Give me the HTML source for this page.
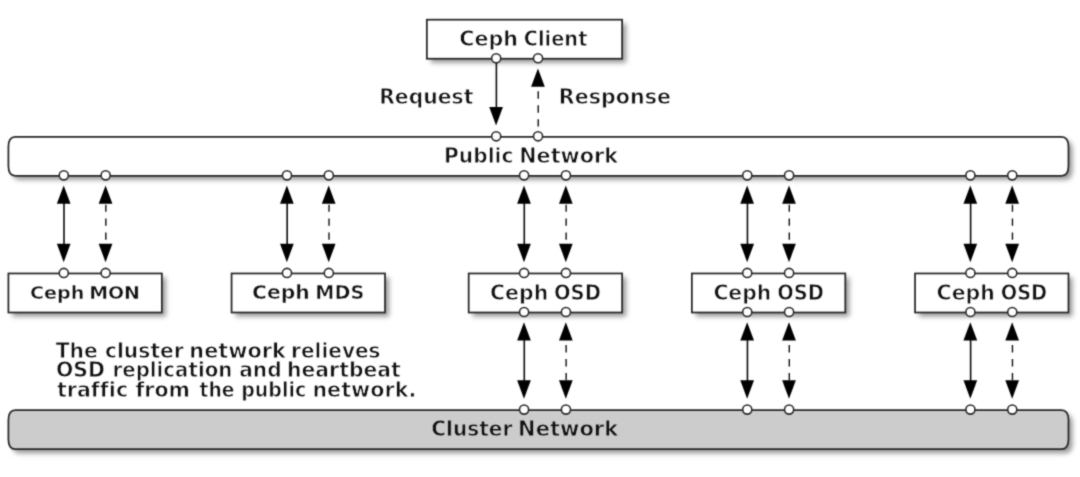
<!DOCTYPE html>
<html><head><meta charset="utf-8"><title>Ceph Network</title>
<style>
html,body{margin:0;padding:0;background:#fff;}
body{width:1080px;height:477px;overflow:hidden;}
svg{display:block;}
text{font-family:"DejaVu Sans","Liberation Sans",sans-serif;font-weight:bold;fill:#111;stroke:#fff;stroke-width:0.8px;font-variant-ligatures:none;font-kerning:none;}
text.g{stroke:#ccc;}
text.m1{stroke-width:0.45px;}
text.m2{stroke-width:0.55px;}
</style></head><body>
<svg width="1080" height="477" viewBox="0 0 1080 477">
<defs>
<filter id="sh" x="-5%" y="-30%" width="110%" height="170%">
<feGaussianBlur in="SourceAlpha" stdDeviation="2.8"/>
<feOffset dx="4.2" dy="4.2" result="b"/>
<feFlood flood-color="#989898"/>
<feComposite in2="b" operator="in"/>
</filter>
<filter id="soft" x="0" y="0" width="100%" height="100%" filterUnits="userSpaceOnUse" color-interpolation-filters="sRGB">
<feConvolveMatrix order="3" kernelMatrix="0.0277 0.1110 0.0277 0.1110 0.4452 0.1110 0.0277 0.1110 0.0277" divisor="1" edgeMode="duplicate" preserveAlpha="true"/>
</filter>
</defs>
<rect width="1080" height="477" fill="#fff"/>
<g filter="url(#soft)">
<rect width="1080" height="477" fill="#fff"/>

<g filter="url(#sh)">
<rect x="426.85" y="19.7" width="195.27" height="39.04" fill="#000"/>
<path d="M15.38 136.82L1061.48 136.82Q1068.46 136.82 1068.46 146.58L1068.46 166.1Q1068.46 175.86 1061.48 175.86L15.38 175.86Q8.41 175.86 8.41 166.1L8.41 146.58Q8.41 136.82 15.38 136.82Z" fill="#000"/>
<rect x="8.41" y="273.46" width="153.43" height="39.04" fill="#000"/>
<rect x="231.58" y="273.46" width="153.43" height="39.04" fill="#000"/>
<rect x="468.69" y="273.46" width="153.43" height="39.04" fill="#000"/>
<rect x="691.86" y="273.46" width="153.43" height="39.04" fill="#000"/>
<rect x="915.03" y="273.46" width="153.43" height="39.04" fill="#000"/>
<path d="M15.38 410.1L1061.48 410.1Q1068.46 410.1 1068.46 419.86L1068.46 439.38Q1068.46 449.14 1061.48 449.14L15.38 449.14Q8.41 449.14 8.41 439.38L8.41 419.86Q8.41 410.1 15.38 410.1Z" fill="#000"/>
</g>
<rect x="426.85" y="19.7" width="195.27" height="39.04" fill="#fff" stroke="#2a2a2a" stroke-width="1.75"/>
<path d="M15.38 136.82L1061.48 136.82Q1068.46 136.82 1068.46 146.58L1068.46 166.1Q1068.46 175.86 1061.48 175.86L15.38 175.86Q8.41 175.86 8.41 166.1L8.41 146.58Q8.41 136.82 15.38 136.82Z" fill="#fff" stroke="#2a2a2a" stroke-width="1.75"/>
<rect x="8.41" y="273.46" width="153.43" height="39.04" fill="#fff" stroke="#2a2a2a" stroke-width="1.75"/>
<rect x="231.58" y="273.46" width="153.43" height="39.04" fill="#fff" stroke="#2a2a2a" stroke-width="1.75"/>
<rect x="468.69" y="273.46" width="153.43" height="39.04" fill="#fff" stroke="#2a2a2a" stroke-width="1.75"/>
<rect x="691.86" y="273.46" width="153.43" height="39.04" fill="#fff" stroke="#2a2a2a" stroke-width="1.75"/>
<rect x="915.03" y="273.46" width="153.43" height="39.04" fill="#fff" stroke="#2a2a2a" stroke-width="1.75"/>
<path d="M15.38 410.1L1061.48 410.1Q1068.46 410.1 1068.46 419.86L1068.46 439.38Q1068.46 449.14 1061.48 449.14L15.38 449.14Q8.41 449.14 8.41 439.38L8.41 419.86Q8.41 410.1 15.38 410.1Z" fill="#ccc" stroke="#2a2a2a" stroke-width="1.75"/>
<line x1="496.39" y1="58.24" x2="496.39" y2="116.8" stroke="#0c0c0c" stroke-width="1.6"/>
<polygon points="496.09,125.56 489.24,107.04 502.94,107.04" fill="#000"/>
<line x1="538.23" y1="126.56" x2="538.23" y2="87.52" stroke="#111" stroke-width="1.4" stroke-dasharray="7.4 6.6" stroke-dashoffset="0.2"/>
<polygon points="537.93,68.4 531.08,86.72 544.78,86.72" fill="#000"/>
<line x1="64" y1="194.88" x2="64" y2="253.44" stroke="#0c0c0c" stroke-width="1.6"/>
<polygon points="63.7,185.52 56.85,203.84 70.55,203.84" fill="#000"/>
<polygon points="63.7,262.2 56.85,243.68 70.55,243.68" fill="#000"/>
<line x1="105.84" y1="204.64" x2="105.84" y2="243.68" stroke="#111" stroke-width="1.4" stroke-dasharray="7.4 6.6" stroke-dashoffset="0.2"/>
<polygon points="105.54,185.52 98.69,203.84 112.39,203.84" fill="#000"/>
<polygon points="105.54,262.2 98.69,243.68 112.39,243.68" fill="#000"/>
<line x1="287.17" y1="194.88" x2="287.17" y2="253.44" stroke="#0c0c0c" stroke-width="1.6"/>
<polygon points="286.87,185.52 280.02,203.84 293.72,203.84" fill="#000"/>
<polygon points="286.87,262.2 280.02,243.68 293.72,243.68" fill="#000"/>
<line x1="329.01" y1="204.64" x2="329.01" y2="243.68" stroke="#111" stroke-width="1.4" stroke-dasharray="7.4 6.6" stroke-dashoffset="0.2"/>
<polygon points="328.71,185.52 321.86,203.84 335.56,203.84" fill="#000"/>
<polygon points="328.71,262.2 321.86,243.68 335.56,243.68" fill="#000"/>
<line x1="524.28" y1="194.88" x2="524.28" y2="253.44" stroke="#0c0c0c" stroke-width="1.6"/>
<polygon points="523.98,185.52 517.13,203.84 530.83,203.84" fill="#000"/>
<polygon points="523.98,262.2 517.13,243.68 530.83,243.68" fill="#000"/>
<line x1="566.13" y1="204.64" x2="566.13" y2="243.68" stroke="#111" stroke-width="1.4" stroke-dasharray="7.4 6.6" stroke-dashoffset="0.2"/>
<polygon points="565.83,185.52 558.98,203.84 572.68,203.84" fill="#000"/>
<polygon points="565.83,262.2 558.98,243.68 572.68,243.68" fill="#000"/>
<line x1="747.45" y1="194.88" x2="747.45" y2="253.44" stroke="#0c0c0c" stroke-width="1.6"/>
<polygon points="747.15,185.52 740.3,203.84 754,203.84" fill="#000"/>
<polygon points="747.15,262.2 740.3,243.68 754,243.68" fill="#000"/>
<line x1="789.3" y1="204.64" x2="789.3" y2="243.68" stroke="#111" stroke-width="1.4" stroke-dasharray="7.4 6.6" stroke-dashoffset="0.2"/>
<polygon points="789,185.52 782.15,203.84 795.85,203.84" fill="#000"/>
<polygon points="789,262.2 782.15,243.68 795.85,243.68" fill="#000"/>
<line x1="970.62" y1="194.88" x2="970.62" y2="253.44" stroke="#0c0c0c" stroke-width="1.6"/>
<polygon points="970.32,185.52 963.47,203.84 977.17,203.84" fill="#000"/>
<polygon points="970.32,262.2 963.47,243.68 977.17,243.68" fill="#000"/>
<line x1="1012.46" y1="204.64" x2="1012.46" y2="243.68" stroke="#111" stroke-width="1.4" stroke-dasharray="7.4 6.6" stroke-dashoffset="0.2"/>
<polygon points="1012.16,185.52 1005.31,203.84 1019.01,203.84" fill="#000"/>
<polygon points="1012.16,262.2 1005.31,243.68 1019.01,243.68" fill="#000"/>
<line x1="524.28" y1="331.52" x2="524.28" y2="390.08" stroke="#0c0c0c" stroke-width="1.6"/>
<polygon points="523.98,322.16 517.13,340.48 530.83,340.48" fill="#000"/>
<polygon points="523.98,398.84 517.13,380.32 530.83,380.32" fill="#000"/>
<line x1="566.13" y1="380.32" x2="566.13" y2="341.28" stroke="#111" stroke-width="1.4" stroke-dasharray="7.4 6.6" stroke-dashoffset="0.2"/>
<polygon points="565.83,322.16 558.98,340.48 572.68,340.48" fill="#000"/>
<polygon points="565.83,398.84 558.98,380.32 572.68,380.32" fill="#000"/>
<line x1="747.45" y1="331.52" x2="747.45" y2="390.08" stroke="#0c0c0c" stroke-width="1.6"/>
<polygon points="747.15,322.16 740.3,340.48 754,340.48" fill="#000"/>
<polygon points="747.15,398.84 740.3,380.32 754,380.32" fill="#000"/>
<line x1="789.3" y1="380.32" x2="789.3" y2="341.28" stroke="#111" stroke-width="1.4" stroke-dasharray="7.4 6.6" stroke-dashoffset="0.2"/>
<polygon points="789,322.16 782.15,340.48 795.85,340.48" fill="#000"/>
<polygon points="789,398.84 782.15,380.32 795.85,380.32" fill="#000"/>
<line x1="970.62" y1="331.52" x2="970.62" y2="390.08" stroke="#0c0c0c" stroke-width="1.6"/>
<polygon points="970.32,322.16 963.47,340.48 977.17,340.48" fill="#000"/>
<polygon points="970.32,398.84 963.47,380.32 977.17,380.32" fill="#000"/>
<line x1="1012.46" y1="380.32" x2="1012.46" y2="341.28" stroke="#111" stroke-width="1.4" stroke-dasharray="7.4 6.6" stroke-dashoffset="0.2"/>
<polygon points="1012.16,322.16 1005.31,340.48 1019.01,340.48" fill="#000"/>
<polygon points="1012.16,398.84 1005.31,380.32 1019.01,380.32" fill="#000"/>
<circle cx="496.19" cy="58.24" r="4.55" fill="#fff" stroke="#2a2a2a" stroke-width="1.6"/>
<circle cx="496.19" cy="136.32" r="4.55" fill="#fff" stroke="#2a2a2a" stroke-width="1.6"/>
<circle cx="538.03" cy="58.24" r="4.55" fill="#fff" stroke="#2a2a2a" stroke-width="1.6"/>
<circle cx="538.03" cy="136.32" r="4.55" fill="#fff" stroke="#2a2a2a" stroke-width="1.6"/>
<circle cx="63.8" cy="175.36" r="4.55" fill="#fff" stroke="#2a2a2a" stroke-width="1.6"/>
<circle cx="63.8" cy="272.96" r="4.55" fill="#fff" stroke="#2a2a2a" stroke-width="1.6"/>
<circle cx="105.64" cy="175.36" r="4.55" fill="#fff" stroke="#2a2a2a" stroke-width="1.6"/>
<circle cx="105.64" cy="272.96" r="4.55" fill="#fff" stroke="#2a2a2a" stroke-width="1.6"/>
<circle cx="286.97" cy="175.36" r="4.55" fill="#fff" stroke="#2a2a2a" stroke-width="1.6"/>
<circle cx="286.97" cy="272.96" r="4.55" fill="#fff" stroke="#2a2a2a" stroke-width="1.6"/>
<circle cx="328.81" cy="175.36" r="4.55" fill="#fff" stroke="#2a2a2a" stroke-width="1.6"/>
<circle cx="328.81" cy="272.96" r="4.55" fill="#fff" stroke="#2a2a2a" stroke-width="1.6"/>
<circle cx="524.08" cy="175.36" r="4.55" fill="#fff" stroke="#2a2a2a" stroke-width="1.6"/>
<circle cx="524.08" cy="272.96" r="4.55" fill="#fff" stroke="#2a2a2a" stroke-width="1.6"/>
<circle cx="565.93" cy="175.36" r="4.55" fill="#fff" stroke="#2a2a2a" stroke-width="1.6"/>
<circle cx="565.93" cy="272.96" r="4.55" fill="#fff" stroke="#2a2a2a" stroke-width="1.6"/>
<circle cx="747.25" cy="175.36" r="4.55" fill="#fff" stroke="#2a2a2a" stroke-width="1.6"/>
<circle cx="747.25" cy="272.96" r="4.55" fill="#fff" stroke="#2a2a2a" stroke-width="1.6"/>
<circle cx="789.1" cy="175.36" r="4.55" fill="#fff" stroke="#2a2a2a" stroke-width="1.6"/>
<circle cx="789.1" cy="272.96" r="4.55" fill="#fff" stroke="#2a2a2a" stroke-width="1.6"/>
<circle cx="970.42" cy="175.36" r="4.55" fill="#fff" stroke="#2a2a2a" stroke-width="1.6"/>
<circle cx="970.42" cy="272.96" r="4.55" fill="#fff" stroke="#2a2a2a" stroke-width="1.6"/>
<circle cx="1012.26" cy="175.36" r="4.55" fill="#fff" stroke="#2a2a2a" stroke-width="1.6"/>
<circle cx="1012.26" cy="272.96" r="4.55" fill="#fff" stroke="#2a2a2a" stroke-width="1.6"/>
<circle cx="524.08" cy="312" r="4.55" fill="#fff" stroke="#2a2a2a" stroke-width="1.6"/>
<circle cx="524.08" cy="409.6" r="4.55" fill="#fff" stroke="#2a2a2a" stroke-width="1.6"/>
<circle cx="565.93" cy="312" r="4.55" fill="#fff" stroke="#2a2a2a" stroke-width="1.6"/>
<circle cx="565.93" cy="409.6" r="4.55" fill="#fff" stroke="#2a2a2a" stroke-width="1.6"/>
<circle cx="747.25" cy="312" r="4.55" fill="#fff" stroke="#2a2a2a" stroke-width="1.6"/>
<circle cx="747.25" cy="409.6" r="4.55" fill="#fff" stroke="#2a2a2a" stroke-width="1.6"/>
<circle cx="789.1" cy="312" r="4.55" fill="#fff" stroke="#2a2a2a" stroke-width="1.6"/>
<circle cx="789.1" cy="409.6" r="4.55" fill="#fff" stroke="#2a2a2a" stroke-width="1.6"/>
<circle cx="970.42" cy="312" r="4.55" fill="#fff" stroke="#2a2a2a" stroke-width="1.6"/>
<circle cx="970.42" cy="409.6" r="4.55" fill="#fff" stroke="#2a2a2a" stroke-width="1.6"/>
<circle cx="1012.26" cy="312" r="4.55" fill="#fff" stroke="#2a2a2a" stroke-width="1.6"/>
<circle cx="1012.26" cy="409.6" r="4.55" fill="#fff" stroke="#2a2a2a" stroke-width="1.6"/>
<text y="45.9" font-size="22"><tspan x="459.27" textLength="58.63" lengthAdjust="spacingAndGlyphs">Ceph</tspan> <tspan x="523.75" textLength="63.67" lengthAdjust="spacingAndGlyphs">Client</tspan></text>
<text y="103.9" font-size="22"><tspan x="379.16" textLength="94.31" lengthAdjust="spacingAndGlyphs">Request</tspan></text>
<text y="103.9" font-size="22"><tspan x="558.84" textLength="112.08" lengthAdjust="spacingAndGlyphs">Response</tspan></text>
<text y="163" font-size="22"><tspan x="444.09" textLength="69.35" lengthAdjust="spacingAndGlyphs">Public</tspan> <tspan x="519.15" textLength="98.98" lengthAdjust="spacingAndGlyphs">Network</tspan></text>
<text class="m1" y="299" font-size="18.15"><tspan x="30.03" textLength="54.35" lengthAdjust="spacingAndGlyphs">Ceph</tspan> <tspan x="89.15" textLength="50.83" lengthAdjust="spacingAndGlyphs">MON</tspan></text>
<text class="m2" y="298.5" font-size="19.58"><tspan x="251.97" textLength="57.8" lengthAdjust="spacingAndGlyphs">Ceph</tspan> <tspan x="315.37" textLength="48.89" lengthAdjust="spacingAndGlyphs">MDS</tspan></text>
<text y="299.6" font-size="22"><tspan x="490.03" textLength="58.21" lengthAdjust="spacingAndGlyphs">Ceph</tspan> <tspan x="553.97" textLength="46.94" lengthAdjust="spacingAndGlyphs">OSD</tspan></text>
<text y="299.6" font-size="22"><tspan x="713.39" textLength="57.9" lengthAdjust="spacingAndGlyphs">Ceph</tspan> <tspan x="777.14" textLength="46.69" lengthAdjust="spacingAndGlyphs">OSD</tspan></text>
<text y="299.6" font-size="22"><tspan x="936.62" textLength="58.13" lengthAdjust="spacingAndGlyphs">Ceph</tspan> <tspan x="1000.69" textLength="46.53" lengthAdjust="spacingAndGlyphs">OSD</tspan></text>
<text y="357.9" font-size="22"><tspan x="55.74" textLength="42.11" lengthAdjust="spacingAndGlyphs">The</tspan> <tspan x="104.89" textLength="79.01" lengthAdjust="spacingAndGlyphs">cluster</tspan> <tspan x="189.36" textLength="96.56" lengthAdjust="spacingAndGlyphs">network</tspan> <tspan x="291.06" textLength="89.52" lengthAdjust="spacingAndGlyphs">relieves</tspan></text>
<text y="377.2" font-size="22"><tspan x="55.91" textLength="49" lengthAdjust="spacingAndGlyphs">OSD</tspan> <tspan x="112.5" textLength="119.82" lengthAdjust="spacingAndGlyphs">replication</tspan> <tspan x="239.16" textLength="42.46" lengthAdjust="spacingAndGlyphs">and</tspan> <tspan x="286.99" textLength="113.88" lengthAdjust="spacingAndGlyphs">heartbeat</tspan></text>
<text y="396.9" font-size="22"><tspan x="56.91" textLength="71.22" lengthAdjust="spacingAndGlyphs">traffic</tspan> <tspan x="135.4" textLength="54.65" lengthAdjust="spacingAndGlyphs">from</tspan> <tspan x="199.58" textLength="34.95" lengthAdjust="spacingAndGlyphs">the</tspan> <tspan x="241.23" textLength="65.07" lengthAdjust="spacingAndGlyphs">public</tspan> <tspan x="312.39" textLength="103.95" lengthAdjust="spacingAndGlyphs">network.</tspan></text>
<text class="g" y="435.5" font-size="22"><tspan x="431.33" textLength="81.06" lengthAdjust="spacingAndGlyphs">Cluster</tspan> <tspan x="518.08" textLength="100.1" lengthAdjust="spacingAndGlyphs">Network</tspan></text>
</g>
</svg></body></html>
